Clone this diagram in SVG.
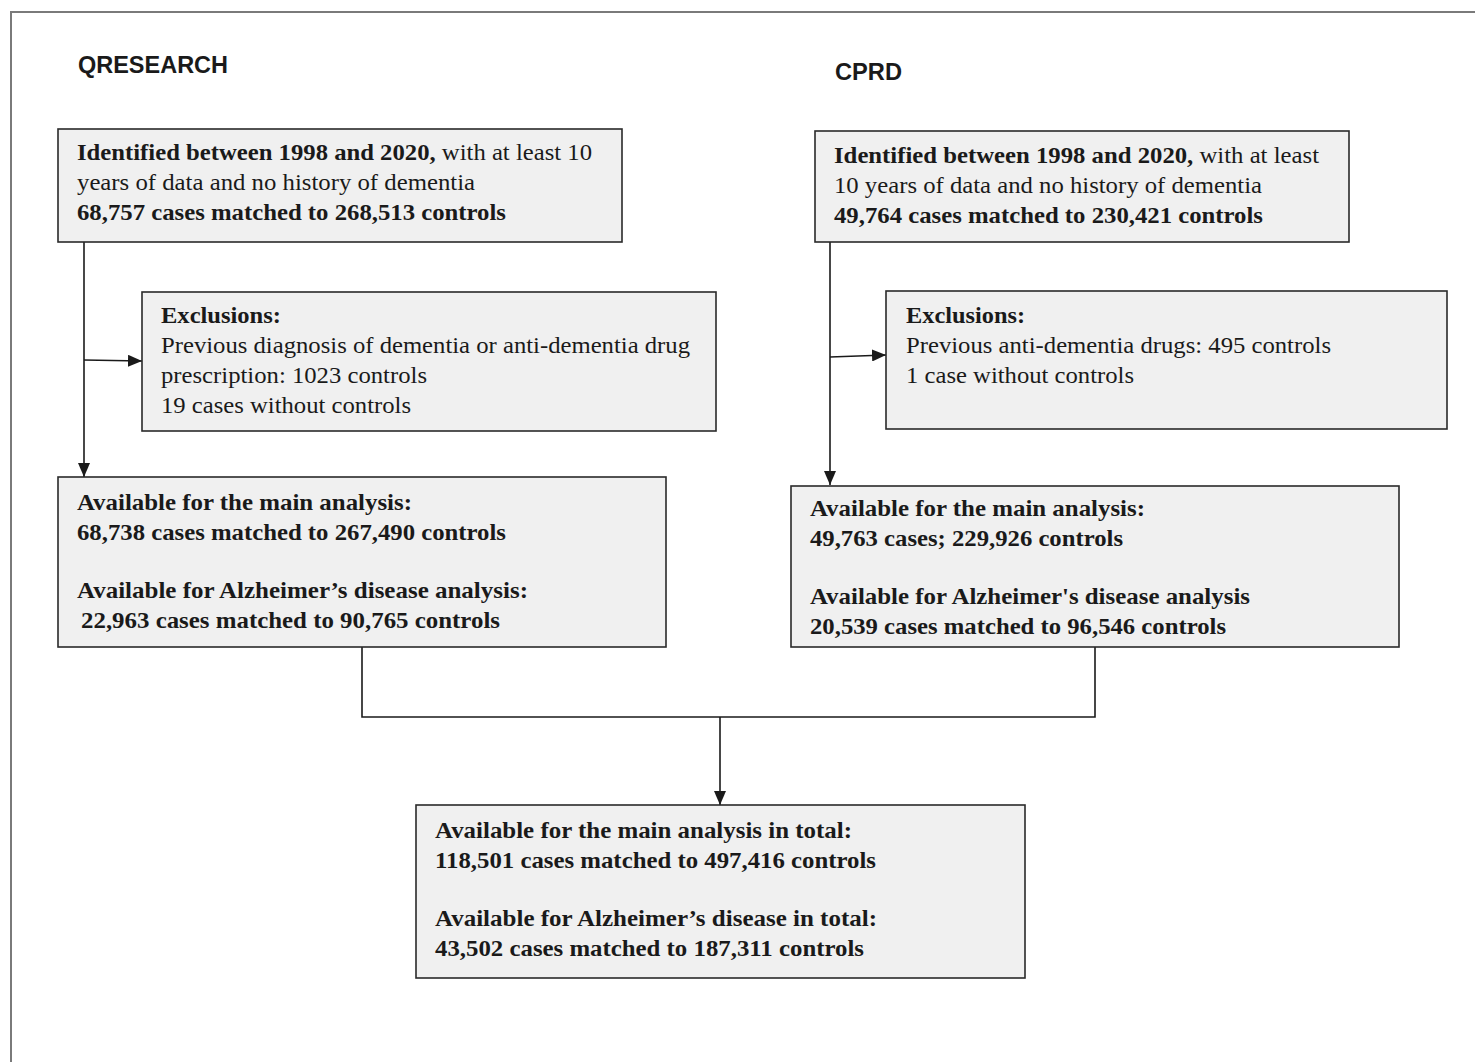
<svg xmlns="http://www.w3.org/2000/svg" width="1475" height="1062" viewBox="0 0 1475 1062">
<style>
.box{fill:#f0f0f0;stroke:#2a2a2a;stroke-width:1.6}
.t{font-family:"Liberation Serif","Times New Roman",serif;font-size:24px;fill:#1a1a1a}
.b{font-weight:bold}
.h{font-family:"Liberation Sans",Arial,sans-serif;font-size:23px;font-weight:bold;fill:#1a1a1a}
.c{fill:none;stroke:#1a1a1a;stroke-width:1.6}
</style>
<defs>
<marker id="arr" viewBox="0 0 14 12" refX="14" refY="6" markerWidth="14" markerHeight="12" markerUnits="userSpaceOnUse" orient="auto">
<path d="M0,0 L14,6 L0,12 Z" fill="#1a1a1a"/>
</marker>
</defs>
<rect width="1475" height="1062" fill="#ffffff"/>
<path d="M11,1062 V12 H1475" fill="none" stroke="#7a7a7a" stroke-width="2"/>
<text class="h" x="78" y="73" textLength="150" lengthAdjust="spacingAndGlyphs">QRESEARCH</text>
<text class="h" x="835" y="80" textLength="67" lengthAdjust="spacingAndGlyphs">CPRD</text>

<g id="connectors">
<line class="c" x1="84" y1="242" x2="84" y2="477" marker-end="url(#arr)"/>
<line class="c" x1="84" y1="360" x2="142" y2="361" marker-end="url(#arr)"/>
<line class="c" x1="830" y1="242" x2="830" y2="485" marker-end="url(#arr)"/>
<line class="c" x1="830" y1="357" x2="886" y2="355" marker-end="url(#arr)"/>
<polyline class="c" points="362,647 362,717 1095,717 1095,647"/>
<line class="c" x1="720" y1="717" x2="720" y2="805" marker-end="url(#arr)"/>
</g>

<g id="qr-identified">
<rect class="box" x="58" y="129" width="564" height="113"/>
<text class="t" x="77" y="160" textLength="515" lengthAdjust="spacingAndGlyphs"><tspan class="b">Identified between 1998 and 2020,</tspan> with at least 10</text>
<text class="t" x="77" y="190" textLength="398" lengthAdjust="spacingAndGlyphs">years of data and no history of dementia</text>
<text class="t b" x="77" y="220" textLength="429" lengthAdjust="spacingAndGlyphs">68,757 cases matched to 268,513 controls</text>
</g>

<g id="qr-exclusions">
<rect class="box" x="142" y="292" width="574" height="139"/>
<text class="t b" x="161" y="323" textLength="120" lengthAdjust="spacingAndGlyphs">Exclusions:</text>
<text class="t" x="161" y="353" textLength="529" lengthAdjust="spacingAndGlyphs">Previous diagnosis of dementia or anti-dementia drug</text>
<text class="t" x="161" y="383" textLength="266" lengthAdjust="spacingAndGlyphs">prescription: 1023 controls</text>
<text class="t" x="161" y="413" textLength="250" lengthAdjust="spacingAndGlyphs">19 cases without controls</text>
</g>

<g id="qr-available">
<rect class="box" x="58" y="477" width="608" height="170"/>
<text class="t b" x="77" y="510" textLength="335" lengthAdjust="spacingAndGlyphs">Available for the main analysis:</text>
<text class="t b" x="77" y="540" textLength="429" lengthAdjust="spacingAndGlyphs">68,738 cases matched to 267,490 controls</text>
<text class="t b" x="77" y="598" textLength="451" lengthAdjust="spacingAndGlyphs">Available for Alzheimer’s disease analysis:</text>
<text class="t b" x="81" y="628" textLength="419" lengthAdjust="spacingAndGlyphs">22,963 cases matched to 90,765 controls</text>
</g>

<g id="cprd-identified">
<rect class="box" x="815" y="131" width="534" height="111"/>
<text class="t" x="834" y="163" textLength="485" lengthAdjust="spacingAndGlyphs"><tspan class="b">Identified between 1998 and 2020,</tspan> with at least</text>
<text class="t" x="834" y="193" textLength="428" lengthAdjust="spacingAndGlyphs">10 years of data and no history of dementia</text>
<text class="t b" x="834" y="223" textLength="429" lengthAdjust="spacingAndGlyphs">49,764 cases matched to 230,421 controls</text>
</g>

<g id="cprd-exclusions">
<rect class="box" x="886" y="291" width="561" height="138"/>
<text class="t b" x="906" y="323" textLength="119" lengthAdjust="spacingAndGlyphs">Exclusions:</text>
<text class="t" x="906" y="353" textLength="425" lengthAdjust="spacingAndGlyphs">Previous anti-dementia drugs: 495 controls</text>
<text class="t" x="906" y="383" textLength="228" lengthAdjust="spacingAndGlyphs">1 case without controls</text>
</g>

<g id="cprd-available">
<rect class="box" x="791" y="486" width="608" height="161"/>
<text class="t b" x="810" y="516" textLength="335" lengthAdjust="spacingAndGlyphs">Available for the main analysis:</text>
<text class="t b" x="810" y="546" textLength="313" lengthAdjust="spacingAndGlyphs">49,763 cases; 229,926 controls</text>
<text class="t b" x="810" y="604" textLength="440" lengthAdjust="spacingAndGlyphs">Available for Alzheimer's disease analysis</text>
<text class="t b" x="810" y="634" textLength="416" lengthAdjust="spacingAndGlyphs">20,539 cases matched to 96,546 controls</text>
</g>

<g id="total">
<rect class="box" x="416" y="805" width="609" height="173"/>
<text class="t b" x="435" y="838" textLength="417" lengthAdjust="spacingAndGlyphs">Available for the main analysis in total:</text>
<text class="t b" x="435" y="868" textLength="441" lengthAdjust="spacingAndGlyphs">118,501 cases matched to 497,416 controls</text>
<text class="t b" x="435" y="926" textLength="442" lengthAdjust="spacingAndGlyphs">Available for Alzheimer’s disease in total:</text>
<text class="t b" x="435" y="956" textLength="429" lengthAdjust="spacingAndGlyphs">43,502 cases matched to 187,311 controls</text>
</g>
</svg>
